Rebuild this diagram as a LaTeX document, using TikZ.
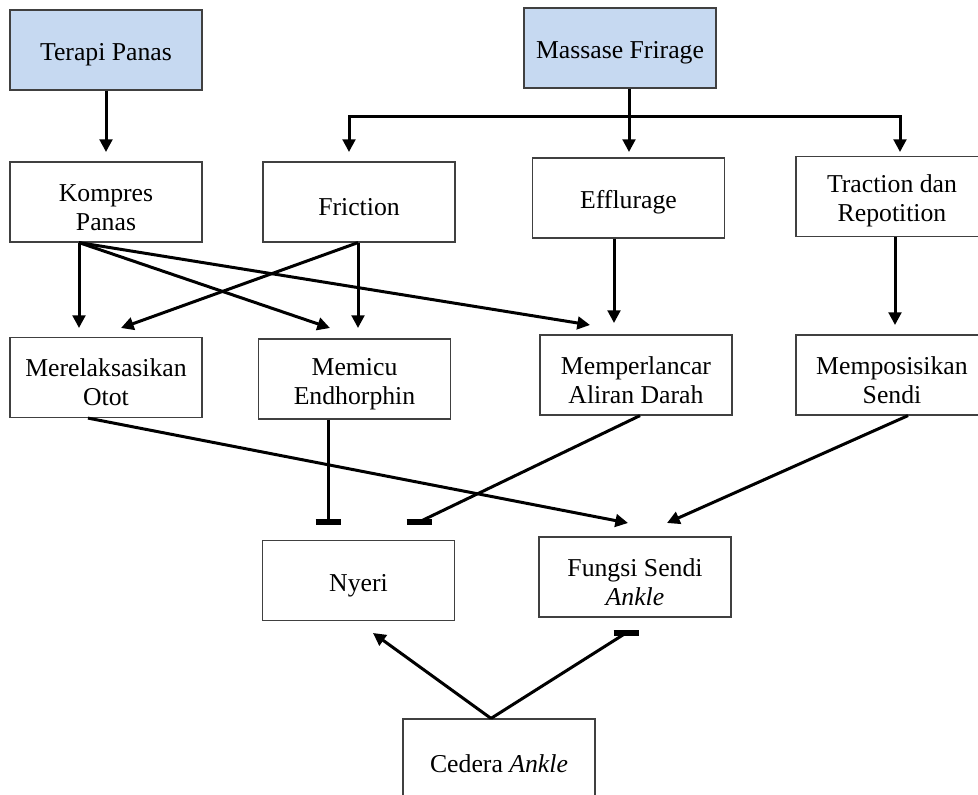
\documentclass[tikz,border=0pt]{standalone}
\usepackage{fontspec}
\setmainfont{Liberation Serif}
\usetikzlibrary{arrows.meta,calc}
\definecolor{boxblue}{RGB}{198,217,241}
\newcommand{\tstrut}{\rule{0pt}{20.5pt}}
\begin{document}
\begin{tikzpicture}[x=0.75pt,y=-0.75pt,
  box/.style={draw=black!75, line width=0.9pt, minimum width=144pt, minimum height=60pt,
              inner sep=0pt, align=center, font=\fontsize{19.3}{21.8}\selectfont, fill=white},
  topbox/.style={box, fill=boxblue},
  arr/.style={line width=2.25pt, -{Triangle[length=9.5pt,width=9.5pt]}},
  inh/.style={line width=2.25pt},
  barline/.style={line width=3.8pt}]
\useasboundingbox (0,0) rectangle (978,795);
\clip (0,0) rectangle (978,795);

% nodes
\node[topbox] (terapi) at (106,50) {\tstrut Terapi Panas};
\node[topbox] (massase) at (620,48) {\tstrut Massase Frirage};
\node[box] (kompres) at (106,202) {\tstrut Kompres\\Panas};
\node[box] (friction) at (359,202) {\tstrut Friction};
\node[box] (efflurage) at (628.5,198) {\tstrut Efflurage};
\node[box] (traction) at (892,196.5) {\tstrut Traction dan\\Repotition};
\node[box] (merelaks) at (106,377.5) {\tstrut Merelaksasikan\\Otot};
\node[box] (memicu) at (354.5,379) {\tstrut Memicu\\Endhorphin};
\node[box] (memperlancar) at (636,375) {\tstrut Memperlancar\\Aliran Darah};
\node[box] (memposisikan) at (892,375) {\tstrut Memposisikan\\Sendi};
\node[box] (nyeri) at (358.5,580.5) {\tstrut Nyeri};
\node[box] (fungsi) at (635,577) {\tstrut Fungsi Sendi\\\textit{Ankle}};
\node[box] (cedera) at (499,759) {\tstrut Cedera \textit{Ankle}};

% free ends
\coordinate (tK) at (106,152);
\coordinate (jM) at (629,117);
\coordinate (tF) at (349,152);
\coordinate (tE) at (629,152);
\coordinate (tT) at (900,152);
\coordinate (tMo1) at (79,328);
\coordinate (tMe1) at (330,328);
\coordinate (tMp1) at (590,325);
\coordinate (tMe2) at (358,328);
\coordinate (tMo2) at (121,328);
\coordinate (tMp2) at (614,323);
\coordinate (tMs) at (895,325);
\coordinate (bN1) at (328,522);
\coordinate (bN2) at (419,522);
\coordinate (tF1) at (628,523);
\coordinate (tF2) at (667,523);
\coordinate (tN) at (373,633);
\coordinate (bF) at (626,633);

% connectors row 1 -> row 2
\draw[arr] (terapi.south) -- (tK);
\draw[inh] ($(massase.south)+(9,0)$) -- (jM);
\draw[arr] (jM) -- (tE);
\draw[arr] (jM) -| (tF);
\draw[arr] (jM) -| (tT);

% row 2 -> row 3
\draw[arr] ($(kompres.south)+(-27,0)$) -- (tMo1);
\draw[arr] ($(kompres.south)+(-27,0)$) -- (tMe1);
\draw[arr] ($(kompres.south)+(-27,0)$) -- (tMp1);
\draw[arr] ($(friction.south)+(-1,0)$) -- (tMe2);
\draw[arr] ($(friction.south)+(-1,0)$) -- (tMo2);
\draw[arr] ($(efflurage.south)+(-14.5,0)$) -- (tMp2);
\draw[arr] ($(traction.south)+(3,0)$) -- (tMs);

% row 3 -> row 4
\draw[inh] ($(memicu.south)+(-26.5,0)$) -- (bN1);
\draw[barline] ($(bN1)+(-12.5,0)$) -- ($(bN1)+(12.5,0)$);
\draw[inh] ($(memperlancar.south)+(4,0)$) -- (bN2);
\draw[barline] ($(bN2)+(-12.5,0)$) -- ($(bN2)+(12.5,0)$);
\draw[arr] ($(merelaks.south)+(-18,0)$) -- (tF1);
\draw[arr] ($(memposisikan.south)+(16,0)$) -- (tF2);

% cedera
\draw[arr] ($(cedera.north)+(-8,0)$) -- (tN);
\draw[inh] ($(cedera.north)+(-8,0)$) -- (bF);
\draw[barline] ($(bF)+(-12.5,0)$) -- ($(bF)+(12.5,0)$);
\end{tikzpicture}
\end{document}
